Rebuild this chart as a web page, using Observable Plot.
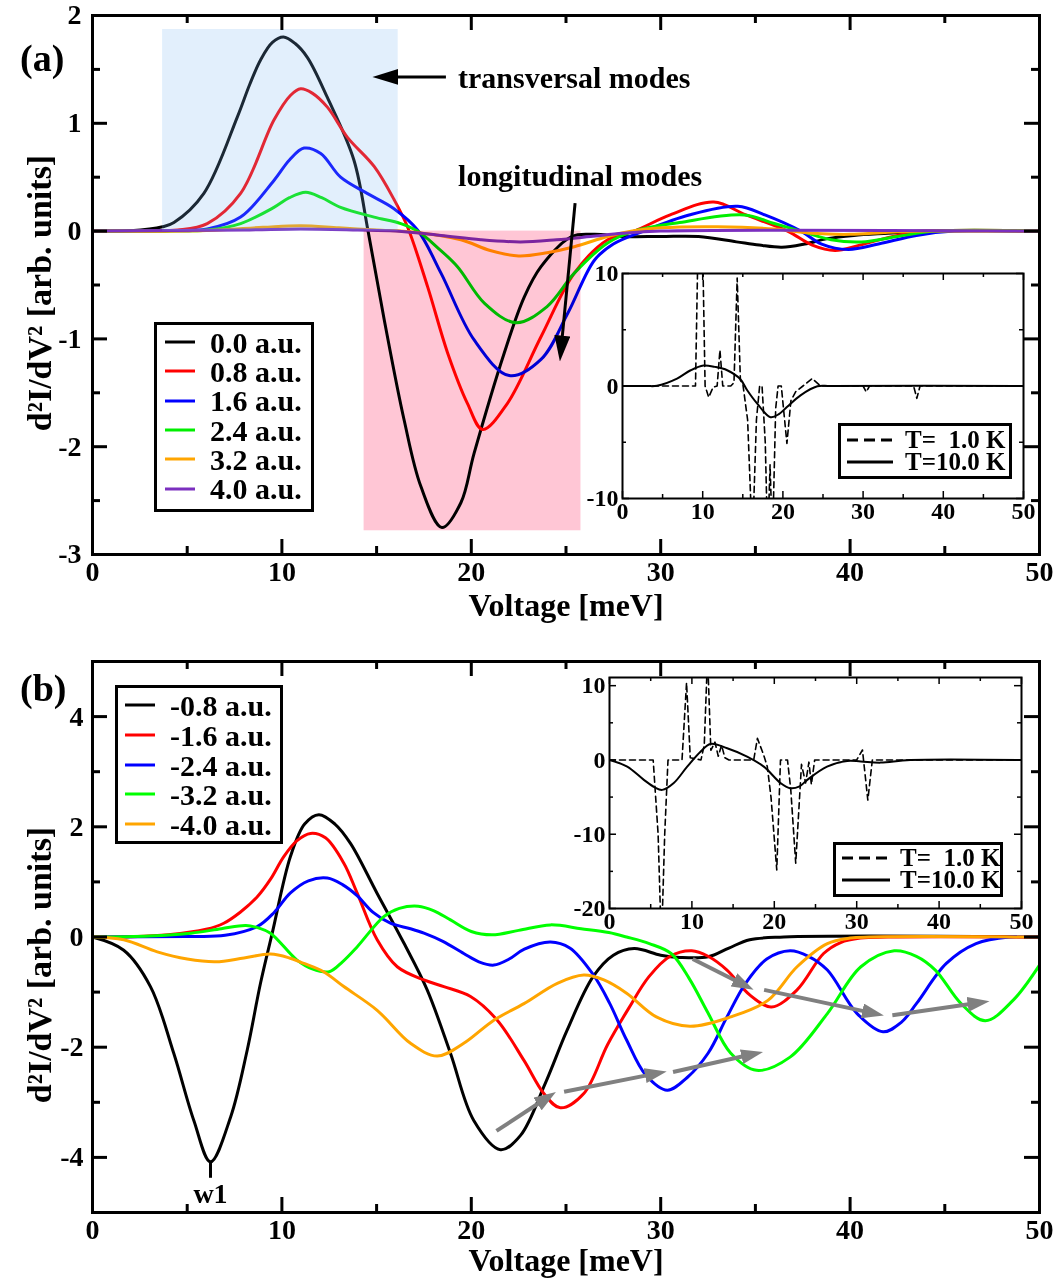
<!DOCTYPE html>
<html><head><meta charset="utf-8">
<script src="https://cdn.jsdelivr.net/npm/d3@7"></script>
<script src="https://cdn.jsdelivr.net/npm/@observablehq/plot@0.6"></script>
<style>
html,body{margin:0;padding:0;background:#fff;}
#wrap{position:relative;width:1055px;height:1279px;overflow:hidden;font-family:"Liberation Serif","Times New Roman",serif;font-weight:bold;color:#000;}
.legend{position:absolute;border:3px solid #000;background:#fff;box-sizing:border-box;}
.lrow{position:absolute;white-space:pre;}
.plabel{position:absolute;font-size:38px;line-height:40px;}
</style></head><body><div id="wrap"></div>
<script>
// ---------------- DATA ----------------
const xMajor = [0, 10, 20, 30, 40, 50];
const xMinor = [5, 15, 25, 35, 45];
const yMajorA = [-3, -2, -1, 0, 1, 2];
const yMinorA = [-2.5, -1.5, -0.5, 0.5, 1.5];
const yMajorB = [-4, -2, 0, 2, 4];
const yMinorB = [-5, -3, -1, 1, 3, 5];
const insetYMajorA = [-10, 0, 10];
const insetYMinorA = [-5, 5];
const insetYMajorB = [-20, -10, 0, 10];
const insetYMinorB = [-15, -5, 5];

// panel (a): field values and colours
const labelsA = ["0.0 a.u.", "0.8 a.u.", "1.6 a.u.", "2.4 a.u.", "3.2 a.u.", "4.0 a.u."];
const colorsA = ["#000000", "#ff0000", "#0000ff", "#00ee00", "#ffa500", "#7b2fbf"];
const a00 = [[0,0],[2,0.003],[3.7,0.04],[4.3,0.08],[5.88,0.35],[7.65,1.06],[8.3,1.36],[8.88,1.59],[9.5,1.75],[10.08,1.80],[10.7,1.74],[11.35,1.61],[12.4,1.24],[13.8,0.66],[14.55,0],[15.4,-0.82],[16.45,-1.75],[17.34,-2.37],[18.45,-2.75],[19.45,-2.52],[20.15,-2.06],[21.74,-1.13],[22.8,-0.61],[23.68,-0.33],[25.3,-0.05],[26.5,-0.03],[28,-0.05],[30,-0.05],[32,-0.05],[34,-0.1],[35.2,-0.13],[36.4,-0.15],[37.6,-0.12],[38.8,-0.07],[40.2,-0.04],[42,-0.02],[44,0],[50,0]];
const a08 = [[0,0],[3,0.002],[4.5,0.01],[6.06,0.07],[7.82,0.35],[9.58,1.03],[10.46,1.26],[10.99,1.32],[11.6,1.28],[12.4,1.15],[13.46,0.87],[14.87,0.60],[15.93,0.29],[16.63,0.04],[17.7,-0.52],[18.75,-1.13],[19.8,-1.6],[20.6,-1.84],[21.9,-1.6],[23.68,-0.98],[25.44,-0.39],[27.2,-0.08],[28.6,0],[30.5,0.15],[32.8,0.27],[34.5,0.15],[36.7,0],[38,-0.13],[39.2,-0.18],[40.5,-0.13],[42.5,-0.04],[44.5,0],[50,0]];
const a16 = [[0,0],[4,0.003],[6.06,0.02],[7.82,0.13],[9.58,0.47],[10.4,0.66],[11.17,0.77],[12.05,0.72],[13.1,0.50],[14.5,0.35],[15.9,0.21],[17.16,0.01],[18.4,-0.39],[20.15,-1.01],[22.0,-1.34],[23.68,-1.19],[25.1,-0.76],[26.5,-0.27],[27.5,-0.12],[29.1,0],[31.5,0.15],[34.07,0.23],[35.5,0.15],[37.4,0],[38.5,-0.12],[39.9,-0.17],[41.5,-0.12],[43.5,-0.04],[45.5,0],[50,0]];
const a24 = [[0,0],[4,0.002],[6.06,0.01],[7.82,0.07],[9.58,0.22],[10.4,0.31],[11.26,0.36],[12.1,0.31],[13.1,0.22],[14.87,0.13],[16.28,0.07],[17.16,0],[18.2,-0.15],[19.27,-0.33],[20.7,-0.67],[22.36,-0.85],[24.0,-0.70],[25.44,-0.39],[27.2,-0.11],[28.6,0],[31,0.08],[34.4,0.15],[36,0.07],[37.4,0],[39,-0.08],[40.6,-0.10],[42.5,-0.05],[44.5,0],[50,0]];
const a32 = [[0,0],[6,0.005],[9,0.035],[11,0.05],[13,0.03],[15,0.01],[17,-0.01],[19.45,-0.08],[21,-0.18],[22.5,-0.23],[24,-0.2],[25.44,-0.145],[27.2,-0.05],[28.5,0],[30,0.03],[33,0.04],[36,0.02],[38,-0.02],[40,-0.03],[42,-0.01],[44,0],[50,0]];
const a40 = [[0,0],[8,0.01],[11,0.02],[14,0.01],[16,0],[18.4,-0.04],[20.5,-0.08],[22.6,-0.10],[24.5,-0.08],[26.3,-0.05],[28,-0.02],[30,0],[50,0]];
const seriesA = [a00, a08, a16, a24, a32, a40];

// panel (b)
const labelsB = ["-0.8 a.u.", "-1.6 a.u.", "-2.4 a.u.", "-3.2 a.u.", "-4.0 a.u."];
const colorsB = ["#000000", "#ff0000", "#0000ff", "#00ff00", "#ffa500"];
const b08 = [[0,0],[1.65,-0.24],[3.06,-0.9],[4.29,-2.11],[5.35,-3.33],[6.23,-4.08],[7.29,-3.27],[8.17,-2.05],[8.87,-0.84],[9.49,0.07],[10.45,1.46],[11.2,2.05],[11.95,2.22],[12.8,2.05],[13.62,1.70],[15.03,0.79],[16.44,-0.11],[17.67,-0.96],[18.9,-2.11],[20.13,-3.33],[21.54,-3.86],[22.6,-3.6],[23.9,-2.66],[25.06,-1.69],[26.43,-0.72],[27.5,-0.33],[28.6,-0.21],[30,-0.33],[31,-0.37],[32.5,-0.36],[33.6,-0.2],[34.7,-0.05],[36.5,0],[50,0]];
const b16 = [[0,0],[2,0.005],[4,0.04],[6,0.14],[6.93,0.25],[7.8,0.45],[8.7,0.73],[9.4,1.05],[10.1,1.46],[10.8,1.75],[11.51,1.88],[12.3,1.8],[13.27,1.34],[13.97,0.8],[15.03,-0.05],[16.09,-0.54],[17.5,-0.78],[18.55,-0.9],[19.96,-1.08],[21.37,-1.51],[22.78,-2.24],[23.83,-2.84],[24.7,-3.10],[25.94,-2.84],[27.2,-1.95],[28.3,-1.3],[29.38,-0.72],[30.5,-0.35],[31.64,-0.25],[32.5,-0.35],[33.5,-0.6],[34.7,-1.05],[35.85,-1.27],[37.2,-0.96],[38.6,-0.30],[39.5,-0.1],[40.55,-0.02],[42,0],[50,0]];
const b24 = [[0,0],[5,0.01],[7,0.03],[8.7,0.19],[9.6,0.45],[10.45,0.8],[11.4,1.02],[12.4,1.07],[13.2,0.95],[13.97,0.75],[14.8,0.45],[15.73,0.25],[16.79,0.15],[17.5,0.07],[18.5,-0.08],[19.6,-0.3],[20.4,-0.45],[21.19,-0.51],[22,-0.4],[22.8,-0.22],[24.18,-0.09],[25.2,-0.2],[26.43,-0.68],[27.3,-1.2],[28.2,-1.87],[29.2,-2.5],[30.35,-2.78],[31.4,-2.55],[32.5,-2.11],[33.5,-1.45],[34.48,-0.84],[35.6,-0.4],[36.83,-0.25],[37.8,-0.35],[38.8,-0.6],[40.37,-1.39],[41.74,-1.72],[42.7,-1.55],[43.5,-1.21],[45.08,-0.48],[46.65,-0.12],[48.4,0],[50,0]];
const b32 = [[0,0],[3,0.02],[5.2,0.07],[6.8,0.15],[8.1,0.21],[8.8,0.16],[9.4,0.07],[10.8,-0.42],[11.6,-0.58],[12.5,-0.63],[13.2,-0.45],[13.97,-0.18],[15.38,0.37],[16.2,0.52],[17.2,0.56],[18.0,0.48],[18.9,0.31],[20,0.1],[21.1,0.04],[22.5,0.12],[24.18,0.22],[25.8,0.15],[27.26,0.08],[28.2,0],[29.4,-0.12],[30.55,-0.3],[31.5,-0.75],[32.5,-1.38],[33.7,-2.11],[35.06,-2.42],[36.83,-2.18],[38.8,-1.39],[40.57,-0.54],[42.33,-0.25],[43.5,-0.35],[44.5,-0.6],[45.86,-1.21],[47.14,-1.52],[48.6,-1.15],[50,-0.51]];
const b40 = [[0,0],[1.65,-0.05],[3.42,-0.27],[5,-0.4],[6.5,-0.45],[8,-0.38],[9.4,-0.31],[10.4,-0.38],[11.16,-0.48],[12.2,-0.63],[13.27,-0.90],[15.03,-1.33],[16.79,-1.93],[18.2,-2.16],[19.6,-1.93],[21.19,-1.51],[22.78,-1.21],[24.54,-0.84],[25.94,-0.69],[27,-0.78],[28.2,-1.02],[29.77,-1.45],[31.54,-1.62],[33.7,-1.45],[35.66,-1.15],[37.2,-0.54],[38.8,-0.12],[40,-0.02],[41,0],[50,0]];
const seriesB = [b08, b16, b24, b32, b40];

// insets
const insetLabels = ["T=  1.0 K", "T=10.0 K"];
const insetA_1K = [[0,0],[9.1,0],[9.4,12],[9.7,25],[10.0,12],[10.3,0],[10.75,-1.0],[11.3,-0.1],[11.8,0],[12.15,3.2],[12.5,0],[13.5,0],[13.9,0.3],[14.3,9.6],[14.7,0.5],[15.0,0.2],[15.6,-3],[16.2,-14],[16.7,-3],[17.1,0],[17.4,0],[17.8,-5],[18.1,-14],[18.4,-7],[18.7,-14],[19.1,-2],[19.4,0],[19.8,0],[20.5,-5.1],[21.0,-1.3],[21.6,-0.5],[22.5,0],[23.65,0.66],[24.7,0],[30,0],[30.4,-0.53],[30.8,0],[36.3,0],[36.7,-1.1],[37.1,0],[50,0]];
const insetA_10K = [[0,0],[3,0],[4.3,0.02],[6.8,0.66],[8.5,1.4],[10.1,1.82],[11.5,1.7],[13.05,1.4],[14.7,0.6],[15.55,-0.38],[16.8,-1.57],[18.45,-2.77],[19.5,-2.5],[20.5,-1.87],[22.2,-0.83],[24.3,-0.03],[26,0],[50,0]];
const insetB_1K = [[0,0],[5.3,0],[5.9,-10],[6.3,-25],[6.7,-10],[7.1,0],[8.8,0],[9.35,10.4],[9.8,0.3],[11.1,0],[11.5,2],[11.9,14],[12.3,1.3],[12.8,2.4],[13.2,0.5],[13.6,2],[14,0.3],[14.5,0],[17.5,0],[17.95,2.9],[18.7,0.7],[19.15,-0.9],[19.6,-5],[20.3,-14.8],[20.75,0],[21.6,0],[22.0,-4],[22.6,-13.9],[23.3,-0.6],[23.8,-3.1],[24.2,-0.3],[24.5,-3.3],[24.9,0],[30.0,0],[30.7,1.34],[31.35,-5.4],[31.9,0],[50,0]];
const insetB_10K = [[0,0],[2.15,-0.9],[4.17,-2.68],[5.5,-3.7],[6.4,-4.03],[7.8,-3.1],[9.43,-0.9],[11.04,1.11],[12.26,2.15],[14.28,1.57],[16.7,0.45],[18.73,-0.9],[20.75,-3.1],[21.9,-3.8],[23,-3.6],[24.0,-2.68],[26.4,-0.9],[28.85,-0.13],[30.5,-0.2],[32.9,-0.36],[36.5,0],[50,0]];

// annotations
const boxesA = [{x1: 3.7, x2: 16.14, y1: 0, y2: 1.87, kind: "transversal"}, {x1: 14.34, x2: 25.79, y1: -2.78, y2: 0, kind: "longitudinal"}];
const arrowsA = [{x1: 18.66, y1: 1.43, x2: 15.33, y2: 1.43}, {x1: 25.48, y1: 0.26, x2: 24.73, y2: -1.114}];
const notesA = [{x: 19.3, y: 1.42, text: "transversal modes"}, {x: 19.3, y: 0.51, text: "longitudinal modes"}];
const arrowsB = [
  {x1: 21.33, y1: -3.52, x2: 24.08, y2: -2.90},
  {x1: 24.9, y1: -2.81, x2: 29.86, y2: -2.47},
  {x1: 30.65, y1: -2.45, x2: 34.95, y2: -2.12},
  {x1: 31.69, y1: -0.40, x2: 34.49, y2: -0.885},
  {x1: 35.46, y1: -0.96, x2: 41.33, y2: -1.39},
  {x1: 42.23, y1: -1.42, x2: 46.9, y2: -1.19}
];
const w1Note = [{x: 6.23, y1: -4.1, y2: -4.37, ty: -4.66, text: "w1"}];
const yTitle = "d²I/dV² [arb. units]";
const xTitle = "Voltage [meV]";

// ---------------- HELPERS ----------------
const FONT = '"Liberation Serif", "Times New Roman", serif';
const fmt = d => String(d);
const P = d => d[0], V = d => d[1];

function frameTicks(W, H, xMaj, xMin, yMaj, yMin, maj, mnr, sw) {
  const o = {stroke: "#000", strokeWidth: sw};
  const tx = (vals, len) => [
    Plot.tickX(vals, {x: d => d, insetTop: H - len, ...o}),
    Plot.tickX(vals, {x: d => d, insetBottom: H - len, ...o})];
  const ty = (vals, len) => [
    Plot.tickY(vals, {y: d => d, insetRight: W - len, ...o}),
    Plot.tickY(vals, {y: d => d, insetLeft: W - len, ...o})];
  return [...tx(xMaj, maj), ...tx(xMin, mnr), ...ty(yMaj, maj), ...ty(yMin, mnr)];
}

function headMarker(len, wid, refFrac) {
  return (color, context) => {
    const ns = "http://www.w3.org/2000/svg";
    const doc = (context && context.document) || document;
    const m = doc.createElementNS(ns, "marker");
    m.setAttribute("viewBox", `0 ${-wid / 2} ${len} ${wid}`);
    m.setAttribute("markerWidth", len);
    m.setAttribute("markerHeight", wid);
    m.setAttribute("markerUnits", "userSpaceOnUse");
    m.setAttribute("refX", len * refFrac);
    m.setAttribute("refY", 0);
    m.setAttribute("orient", "auto");
    const p = doc.createElementNS(ns, "path");
    p.setAttribute("d", `M0,${-wid / 2}L${len},0L0,${wid / 2}Z`);
    p.setAttribute("fill", color);
    p.setAttribute("stroke", "none");
    m.appendChild(p);
    return m;
  };
}

const wrap = document.getElementById("wrap");
function place(node, left, top) {
  node.style.position = "absolute";
  node.style.left = left + "px";
  node.style.top = top + "px";
  wrap.appendChild(node);
}
const svgStyle = (fs) => ({fontFamily: FONT, fontSize: fs + "px", fontWeight: "bold", background: "transparent", overflow: "visible", color: "#000"});
const titleX = (dy) => Plot.text([xTitle], {frameAnchor: "bottom", textAnchor: "middle", lineAnchor: "middle", dy, fontSize: 32, fontWeight: "bold"});
const titleY = (dy) => Plot.text([yTitle], {frameAnchor: "left", textAnchor: "middle", lineAnchor: "middle", dx: -52, dy, rotate: -90, fontSize: 34, fontWeight: "bold"});

// ---------------- PANEL (a) ----------------
{
  const width = 1055, height = 640, mL = 92, mR = 16, mT = 15, mB = 86;
  const W = width - mL - mR, H = height - mT - mB;
  const plot = Plot.plot({
    width, height, marginLeft: mL, marginRight: mR, marginTop: mT, marginBottom: mB,
    x: {domain: [0, 50]}, y: {domain: [-3, 2]},
    style: svgStyle(28),
    marks: [
      Plot.axisX({ticks: xMajor, tickSize: 0, tickPadding: 7, tickFormat: fmt, label: null}),
      Plot.axisY({ticks: yMajorA, tickSize: 0, tickPadding: 11, tickFormat: fmt, label: null}),
      ...seriesA.map((s, i) => Plot.line(s, {x: P, y: V, stroke: colorsA[i], strokeWidth: 3, curve: "catmull-rom"})),
      Plot.rect(boxesA.filter(b => b.kind === "longitudinal"), {x1: "x1", x2: "x2", y1: "y1", y2: "y2", fill: "#ffc6d5", mixBlendMode: "multiply"}),
      Plot.rect(boxesA.filter(b => b.kind === "transversal"), {x1: "x1", x2: "x2", y1: "y1", y2: "y2", fill: "#7db8f0", fillOpacity: 0.22}),
      ...frameTicks(W, H, xMajor, xMinor, yMajorA, yMinorA, 15, 8, 3),
      Plot.frame({stroke: "#000", strokeWidth: 3}),
      Plot.link(arrowsA, {x1: "x1", y1: "y1", x2: "x2", y2: "y2", stroke: "#000", strokeWidth: 3, markerEnd: headMarker(26, 16, 0.6)}),
      Plot.text(notesA, {x: "x", y: "y", text: "text", textAnchor: "start", fontSize: 30, fontWeight: "bold"}),
      titleX(51),
      titleY(8)
    ]
  });
  place(plot, 0, 0);
}

// ---------------- PANEL (b) ----------------
{
  const width = 1055, height = 639, mL = 92, mR = 16, mT = 21, mB = 67;
  const W = width - mL - mR, H = height - mT - mB;
  const plot = Plot.plot({
    width, height, marginLeft: mL, marginRight: mR, marginTop: mT, marginBottom: mB,
    x: {domain: [0, 50]}, y: {domain: [-5, 5]},
    style: svgStyle(28),
    marks: [
      Plot.axisX({ticks: xMajor, tickSize: 0, tickPadding: 7, tickFormat: fmt, label: null}),
      Plot.axisY({ticks: yMajorB, tickSize: 0, tickPadding: 9, tickFormat: fmt, label: null}),
      ...seriesB.map((s, i) => Plot.line(s, {x: P, y: V, stroke: colorsB[i], strokeWidth: 3, curve: "catmull-rom"})),
      Plot.link(arrowsB, {x1: "x1", y1: "y1", x2: "x2", y2: "y2", stroke: "#808080", strokeWidth: 4, markerEnd: headMarker(22, 15, 0.6)}),
      Plot.link(w1Note, {x1: "x", x2: "x", y1: "y1", y2: "y2", stroke: "#000", strokeWidth: 3}),
      Plot.text(w1Note, {x: "x", y: "ty", text: "text", fontSize: 28, fontWeight: "bold"}),
      ...frameTicks(W, H, xMajor, xMinor, yMajorB, yMinorB, 15, 8, 3),
      Plot.frame({stroke: "#000", strokeWidth: 3}),
      titleX(48),
      titleY(28)
    ]
  });
  place(plot, 0, 640);
}

// ---------------- INSETS ----------------
function inset(left, top, width, height, mL, mR, mT, mB, ydom, yMaj, yMin, d1, d10) {
  const W = width - mL - mR, H = height - mT - mB;
  const plot = Plot.plot({
    width, height, marginLeft: mL, marginRight: mR, marginTop: mT, marginBottom: mB,
    x: {domain: [0, 50]}, y: {domain: ydom},
    style: svgStyle(24),
    marks: [
      Plot.frame({fill: "#fff", stroke: "none"}),
      Plot.axisX({ticks: xMajor, tickSize: 0, tickPadding: 3, tickFormat: fmt, label: null}),
      Plot.axisY({ticks: yMaj, tickSize: 0, tickPadding: 4, tickFormat: fmt, label: null}),
      Plot.line(d1, {x: P, y: V, stroke: "#000", strokeWidth: 1.6, strokeDasharray: "6,4", clip: true}),
      Plot.line(d10, {x: P, y: V, stroke: "#000", strokeWidth: 2, curve: "catmull-rom", clip: true}),
      ...frameTicks(W, H, xMajor, xMinor, yMaj, yMin, 7, 4, 1.5),
      Plot.frame({stroke: "#000", strokeWidth: 2})
    ]
  });
  place(plot, left, top);
}
inset(580, 265, 460, 265, 42, 17, 8, 32, [-10, 10], insetYMajorA, insetYMinorA, insetA_1K, insetA_10K);
inset(560, 668, 475, 270, 49, 14, 9, 30, [-20, 11.1], insetYMajorB, insetYMinorB, insetB_1K, insetB_10K);

// ---------------- LEGENDS ----------------
function swatch(color, len, dash, sw) {
  const ns = "http://www.w3.org/2000/svg";
  const s = document.createElementNS(ns, "svg");
  s.setAttribute("width", len); s.setAttribute("height", 8);
  const l = document.createElementNS(ns, "line");
  l.setAttribute("x1", 0); l.setAttribute("x2", len); l.setAttribute("y1", 4); l.setAttribute("y2", 4);
  l.setAttribute("stroke", color); l.setAttribute("stroke-width", sw);
  if (dash) l.setAttribute("stroke-dasharray", dash);
  s.appendChild(l);
  return s;
}
function legend({left, top, w, h, rows, centers, swL, swLen, txL, fs, lh, sw}) {
  const box = document.createElement("div");
  box.className = "legend";
  box.style.left = left + "px"; box.style.top = top + "px";
  box.style.width = w + "px"; box.style.height = h + "px";
  rows.forEach((r, i) => {
    const s = swatch(r.color, swLen, r.dash, sw);
    s.style.position = "absolute"; s.style.left = (swL - 3) + "px"; s.style.top = (centers[i] - 3 - 4) + "px";
    box.appendChild(s);
    const t = document.createElement("div");
    t.className = "lrow";
    t.textContent = r.label;
    t.style.left = (txL - 3) + "px"; t.style.top = (centers[i] - 3 - lh / 2) + "px";
    t.style.fontSize = fs + "px"; t.style.lineHeight = lh + "px";
    box.appendChild(t);
  });
  wrap.appendChild(box);
}
legend({left: 154, top: 322, w: 160, h: 190, fs: 30, lh: 29, sw: 3, swL: 11, swLen: 30, txL: 56,
  centers: [20, 49.3, 78.6, 108, 137.2, 166.5],
  rows: labelsA.map((l, i) => ({label: l, color: colorsA[i]}))});
legend({left: 115, top: 685, w: 168, h: 159, fs: 30, lh: 29, sw: 3, swL: 10, swLen: 30, txL: 55,
  centers: [20, 50, 80, 109.3, 139.3],
  rows: labelsB.map((l, i) => ({label: l, color: colorsB[i]}))});
legend({left: 838, top: 423, w: 174, h: 56, fs: 25, lh: 22, sw: 3, swL: 9, swLen: 46, txL: 67,
  centers: [17, 38.7],
  rows: insetLabels.map((l, i) => ({label: l, color: "#000", dash: i === 0 ? "11,6" : null}))});
legend({left: 833, top: 842, w: 170, h: 55, fs: 25, lh: 22, sw: 3, swL: 9, swLen: 48, txL: 67,
  centers: [16.3, 38],
  rows: insetLabels.map((l, i) => ({label: l, color: "#000", dash: i === 0 ? "11,6" : null}))});

// panel labels
for (const [t, top] of [["(a)", 38], ["(b)", 668]]) {
  const d = document.createElement("div");
  d.className = "plabel"; d.textContent = t;
  d.style.left = "20px"; d.style.top = top + "px";
  wrap.appendChild(d);
}
</script></body></html>
